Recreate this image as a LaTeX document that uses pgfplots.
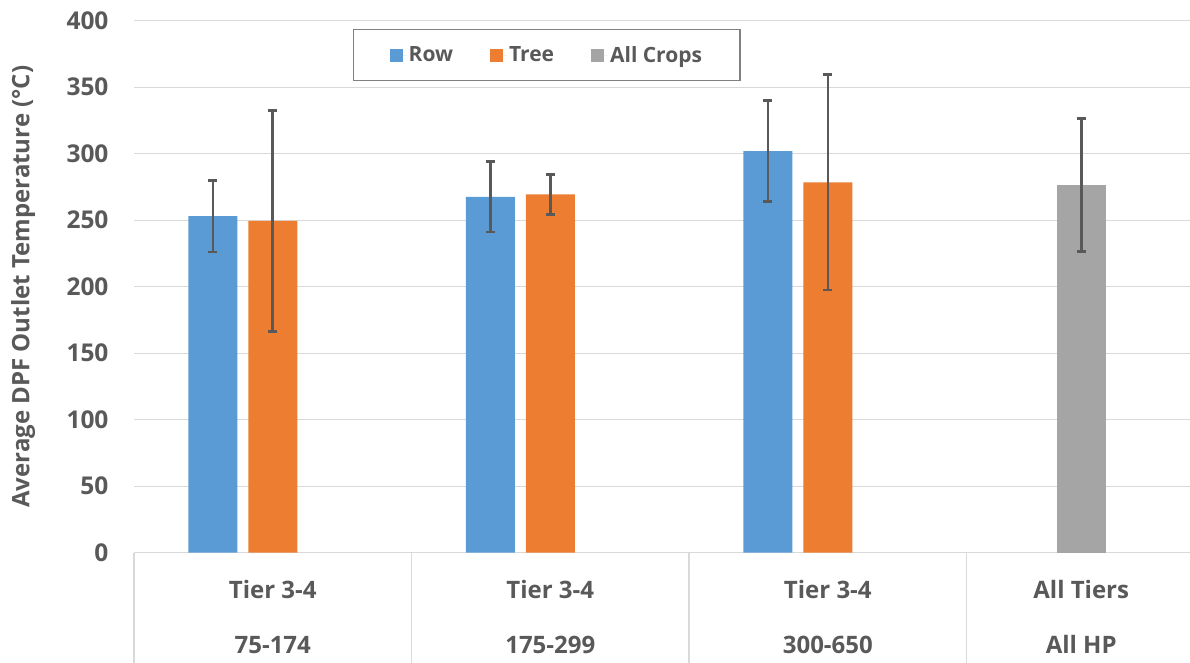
\documentclass[border=0pt]{standalone}
\usepackage{fontspec}
\setmainfont{Open Sans}
\usepackage{pgfplots}
\pgfplotsset{compat=1.18}
\definecolor{rowc}{HTML}{5B9BD5}
\definecolor{treec}{HTML}{ED7D31}
\definecolor{allc}{HTML}{A5A5A5}
\definecolor{textc}{HTML}{595959}
\definecolor{gridc}{HTML}{D9D9D9}
\definecolor{errc}{HTML}{595959}
\definecolor{legc}{HTML}{808080}

% x = category position (0,1,2,...) shifted to where the bar sits in the cluster
\pgfplotstableread{
x y e
-0.216 253.0 27.0
0.784 267.5 26.5
1.784 302.0 38.0
}\rowdata
\pgfplotstableread{
x y e
0 249.5 83.0
1 269.5 15.0
2 278.5 81.0
}\treedata
\pgfplotstableread{
x y e
2.913 276.5 50.0
}\alldata

\begin{document}
\begin{tikzpicture}[x=1pt,y=1pt]
\useasboundingbox (0,0) rectangle (1190,662);
\begin{axis}[
  at={(134pt,109.3pt)}, anchor=south west,
  scale only axis, width=1056pt, height=532pt,
  xmin=-0.5, xmax=3.305, ymin=0, ymax=400,
  ytick={0,50,...,400},
  ymajorgrids, grid style={gridc, line width=1.3pt},
  axis line style={draw=none},
  major tick length=0pt,
  tick pos=left,
  /pgf/number format/assume math mode=true,
  yticklabel style={font=\fontsize{24.5}{28}\selectfont\bfseries, text=textc, xshift=-22pt},
  xtick={0,1,2,2.913},
  xticklabels={{Tier 3-4\\75-174},{Tier 3-4\\175-299},{Tier 3-4\\300-650},{All Tiers\\All HP}},
  xticklabel style={font=\fontsize{24}{55}\selectfont\bfseries, text=textc, align=center, anchor=north, yshift=-24pt},
  extra x ticks={-0.5,0.5,1.5,2.5},
  extra x tick labels={},
  extra x tick style={major tick length=112pt, tick align=outside, tick style={gridc, line width=1.3pt}},
  every axis y label/.style={at={(axis description cs:-0.105,0.5)}, rotate=90, anchor=center},
  ylabel={Average DPF Outlet Temperature (°C)},
  ylabel style={font=\fontsize{24}{26}\selectfont\bfseries, text=textc},
  legend columns=3,
  legend style={at={(0.2074,0.985)}, anchor=north west, draw=legc, line width=1.3pt,
    font=\fontsize{21}{25}\selectfont\bfseries, text=textc,
    inner xsep=36pt, inner ysep=15pt,
    /tikz/every even column/.append style={column sep=35pt}},
  legend cell align=left,
]
\addplot[ybar, bar width=49pt, bar shift=0pt, fill=rowc, draw=none,
  legend image code/.code={\fill[rowc] (0pt,-6.5pt) rectangle (13pt,6.5pt); \path (0pt,0pt) -- (17pt,0pt);},
  error bars/.cd, y dir=both, y explicit,
  error bar style={line width=2.6pt, errc},
  error mark options={rotate=90, mark size=4.5pt, line width=2.6pt, errc}]
  table[x=x, y=y, y error=e] {\rowdata};
\addlegendentry{Row}
\addplot[ybar, bar width=49pt, bar shift=0pt, fill=treec, draw=none,
  legend image code/.code={\fill[treec] (0pt,-6.5pt) rectangle (13pt,6.5pt); \path (0pt,0pt) -- (17pt,0pt);},
  error bars/.cd, y dir=both, y explicit,
  error bar style={line width=2.6pt, errc},
  error mark options={rotate=90, mark size=4.5pt, line width=2.6pt, errc}]
  table[x=x, y=y, y error=e] {\treedata};
\addlegendentry{Tree}
\addplot[ybar, bar width=49pt, bar shift=0pt, fill=allc, draw=none,
  legend image code/.code={\fill[allc] (0pt,-6.5pt) rectangle (13pt,6.5pt); \path (0pt,0pt) -- (17pt,0pt);},
  error bars/.cd, y dir=both, y explicit,
  error bar style={line width=2.6pt, errc},
  error mark options={rotate=90, mark size=4.5pt, line width=2.6pt, errc}]
  table[x=x, y=y, y error=e] {\alldata};
\addlegendentry{All Crops}
\end{axis}
\end{tikzpicture}
\end{document}
